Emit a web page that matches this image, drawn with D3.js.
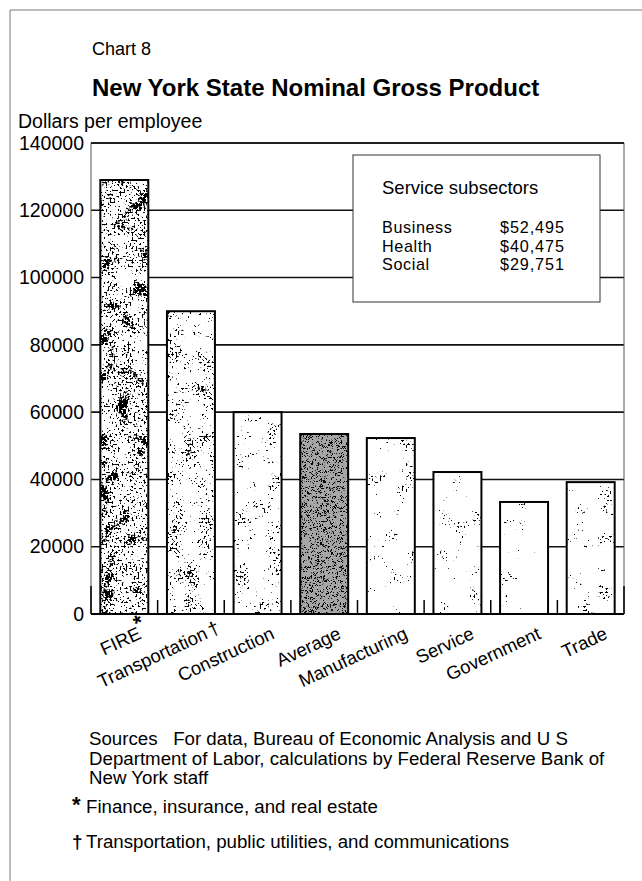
<!DOCTYPE html>
<html>
<head>
<meta charset="utf-8">
<script src="https://cdn.jsdelivr.net/npm/d3@7"></script>
<style>
  html, body { margin: 0; padding: 0; background: #fff; }
  svg { display: block; font-family: "Liberation Sans", Arial, Helvetica, sans-serif; }
</style>
</head>
<body>
<svg id="chart" width="642" height="881"></svg>
<script>
// ---------- data ----------
const categories = ["FIRE", "Transportation", "Construction", "Average", "Manufacturing", "Service", "Government", "Trade"];
const categoryMarks = ["*", "†", "", "", "", "", "", ""];
const values = [129000, 90000, 60000, 53500, 52300, 42200, 33300, 39200];
const yTicks = [0, 20000, 40000, 60000, 80000, 100000, 120000, 140000];
const subsectors = ["Business", "Health", "Social"];
const subsectorValues = ["$52,495", "$40,475", "$29,751"];
const sourceLines = [
  "Sources   For data, Bureau of Economic Analysis and U S",
  "Department of Labor, calculations by Federal Reserve Bank of",
  "New York staff"
];
const noteMarks = ["*", "†"];
const noteTexts = ["Finance, insurance, and real estate", "Transportation, public utilities, and communications"];

// ---------- layout ----------
const svg = d3.select("#chart");
const pLeft = 91, pRight = 624, pTop = 143, pBottom = 614;
const x = d3.scaleBand().domain(categories).range([pLeft, pRight]).paddingInner(0.28).paddingOuter(0.14);
const y = d3.scaleLinear().domain([0, 140000]).range([pBottom, pTop]);

// textures (style only): fine noise modulated by coarse noise, thresholded
const texture = {
  FIRE: { t: 0.545, seed: 3 },
  Transportation: { t: 0.595, seed: 7 },
  Construction: { t: 0.63, seed: 11 },
  Average: { t: 0.56, seed: 5, gray: true },
  Manufacturing: { t: 0.66, seed: 13 },
  Service: { t: 0.66, seed: 17 },
  Government: { t: 0.675, seed: 19 },
  Trade: { t: 0.66, seed: 23 }
};
const defs = svg.append("defs");
const opaque = "1 0 0 0 0  0 1 0 0 0  0 0 1 0 0  0 0 0 0 1";
Object.entries(texture).forEach(([k, s], i) => {
  const f = defs.append("filter").attr("id", "tex" + i)
    .attr("x", 0).attr("y", 0).attr("width", 1).attr("height", 1)
    .attr("color-interpolation-filters", "sRGB");
  const fine = s.gray ? 1.2 : 0.5, coarse = s.gray ? 0.3 : 0.06;
  f.append("feTurbulence").attr("type", "fractalNoise").attr("baseFrequency", fine)
    .attr("numOctaves", 2).attr("seed", s.seed).attr("result", "n1");
  f.append("feColorMatrix").attr("in", "n1").attr("type", "matrix").attr("values", opaque).attr("result", "f1");
  f.append("feTurbulence").attr("type", "fractalNoise").attr("baseFrequency", coarse)
    .attr("numOctaves", 2).attr("seed", s.seed + 50).attr("result", "n2");
  f.append("feColorMatrix").attr("in", "n2").attr("type", "matrix").attr("values", opaque).attr("result", "f2");
  f.append("feComposite").attr("in", "f1").attr("in2", "f2").attr("operator", "arithmetic")
    .attr("k1", 0).attr("k2", 0.6).attr("k3", 0.4).attr("k4", 0).attr("result", "mix");
  const slope = 30;
  f.append("feColorMatrix").attr("in", "mix").attr("type", "matrix")
    .attr("values", `0 0 0 0 0  0 0 0 0 0  0 0 0 0 0  ${slope} 0 0 0 ${-slope * s.t}`)
    .attr("result", "dots");
  f.append("feComposite").attr("in", "dots").attr("in2", "SourceAlpha").attr("operator", "in");
});

// page frame
svg.append("line").attr("x1", 10).attr("x2", 642).attr("y1", 10).attr("y2", 10)
  .attr("stroke", "#777").attr("stroke-width", 1);
svg.append("line").attr("x1", 10).attr("x2", 10).attr("y1", 10).attr("y2", 881)
  .attr("stroke", "#777").attr("stroke-width", 1);

// titles
svg.append("text").attr("x", 92).attr("y", 55).attr("font-size", 18).text("Chart 8");
svg.append("text").attr("x", 92).attr("y", 96).attr("font-size", 24).attr("font-weight", "bold")
  .text("New York State Nominal Gross Product");
svg.append("text").attr("x", 18).attr("y", 128).attr("font-size", 19.5).text("Dollars per employee");

// gridlines
svg.append("g").selectAll("line").data(yTicks.filter(d => d > 0)).join("line")
  .attr("x1", pLeft).attr("x2", pRight).attr("y1", d => y(d)).attr("y2", d => y(d))
  .attr("stroke", "#111").attr("stroke-width", 1.6);

// frame sides
svg.append("line").attr("x1", pLeft).attr("x2", pLeft).attr("y1", pTop).attr("y2", pBottom)
  .attr("stroke", "#555").attr("stroke-width", 1);
svg.append("line").attr("x1", pRight).attr("x2", pRight).attr("y1", pTop).attr("y2", pBottom)
  .attr("stroke", "#555").attr("stroke-width", 1);

// y axis labels
const yAxis = svg.append("g").attr("transform", `translate(${pLeft},0)`)
  .call(d3.axisLeft(y).tickValues(yTicks).tickSize(0).tickPadding(7).tickFormat(d3.format("d")));
yAxis.select(".domain").remove();
yAxis.selectAll("text").attr("font-size", 19.5).attr("fill", "#000")
  .attr("font-family", "Liberation Sans, Arial, sans-serif");

// legend box
const lg = svg.append("g");
lg.append("rect").attr("x", 353).attr("y", 155).attr("width", 247).attr("height", 147)
  .attr("fill", "#fff").attr("stroke", "#333").attr("stroke-width", 1);
lg.append("text").attr("x", 382).attr("y", 194).attr("font-size", 18.5).text("Service subsectors");
lg.selectAll("text.sub").data(subsectors).join("text").attr("class", "sub")
  .attr("x", 382).attr("y", (d, i) => 233 + i * 18.5).attr("font-size", 16.2)
  .attr("letter-spacing", 0.6).text(d => d);
lg.selectAll("text.val").data(subsectorValues).join("text").attr("class", "val")
  .attr("x", 500).attr("y", (d, i) => 233 + i * 18.5).attr("font-size", 16.2)
  .attr("letter-spacing", 0.9).text(d => d);

// bars
const bars = svg.append("g");
categories.forEach((c, i) => {
  const s = texture[c];
  const bx = x(c), bw = x.bandwidth(), by = y(values[i]), bh = y(0) - y(values[i]);
  bars.append("rect").attr("x", bx).attr("y", by).attr("width", bw).attr("height", bh)
    .attr("fill", s.gray ? "#a6a6a6" : "#fff");
  bars.append("rect").attr("x", bx).attr("y", by).attr("width", bw).attr("height", bh)
    .attr("fill", s.gray ? "#333" : "#000").attr("filter", `url(#tex${i})`);
  bars.append("rect").attr("x", bx).attr("y", by).attr("width", bw).attr("height", bh)
    .attr("fill", "none").attr("stroke", "#000").attr("stroke-width", 2);
});

// top line
svg.append("line").attr("x1", pLeft).attr("x2", pRight).attr("y1", y(140000)).attr("y2", y(140000))
  .attr("stroke", "#111").attr("stroke-width", 1.6);

// baseline and category boundary ticks
svg.append("line").attr("x1", pLeft).attr("x2", pRight).attr("y1", y(0)).attr("y2", y(0))
  .attr("stroke", "#000").attr("stroke-width", 2);
const bounds = categories.map(c => x(c) - x.step() * x.paddingInner() / 2).concat([pRight]);
svg.append("g").selectAll("line").data(bounds).join("line")
  .attr("x1", d => d).attr("x2", d => d)
  .attr("y1", (d, i) => y(0) - (i === 0 || i === bounds.length - 1 ? 28 : 14)).attr("y2", y(0))
  .attr("stroke", "#000").attr("stroke-width", 1.5);

// x axis labels
const xAxis = svg.append("g").attr("transform", `translate(0,${y(0)})`)
  .call(d3.axisBottom(x).tickSize(0).tickFormat(""));
xAxis.select(".domain").remove();
xAxis.selectAll(".tick").each(function (c) {
  const g = d3.select(this).append("g").attr("transform", "translate(18,24) rotate(-25)");
  g.append("text")
    .attr("fill", "#000").attr("font-size", 18.5).attr("text-anchor", "end")
    .attr("font-family", "Liberation Sans, Arial, sans-serif").text(c);
  const m = categoryMarks[categories.indexOf(c)];
  if (m === "*") {
    g.append("text").attr("x", 3).attr("y", -8).attr("fill", "#000").attr("font-size", 22)
      .attr("font-weight", "bold").attr("font-family", "Liberation Sans, Arial, sans-serif").text(m);
  } else if (m) {
    g.append("text").attr("x", 8).attr("y", 0).attr("fill", "#000").attr("font-size", 19)
      .attr("font-family", "Liberation Sans, Arial, sans-serif").text(m);
  }
});

// footnotes
svg.append("g").selectAll("text").data(sourceLines).join("text")
  .attr("x", 89).attr("y", (d, i) => 745 + i * 19.5).attr("font-size", 18.7)
  .attr("xml:space", "preserve").style("white-space", "pre").text(d => d);
noteTexts.forEach((t, i) => {
  const yy = 813 + i * 35;
  svg.append("text").attr("x", 72).attr("y", yy - (i === 0 ? 1 : 0)).attr("font-size", i === 0 ? 22 : 19)
    .attr("font-weight", "bold").text(noteMarks[i]);
  svg.append("text").attr("x", 86).attr("y", yy).attr("font-size", 18.7).text(t);
});
</script>
</body>
</html>
